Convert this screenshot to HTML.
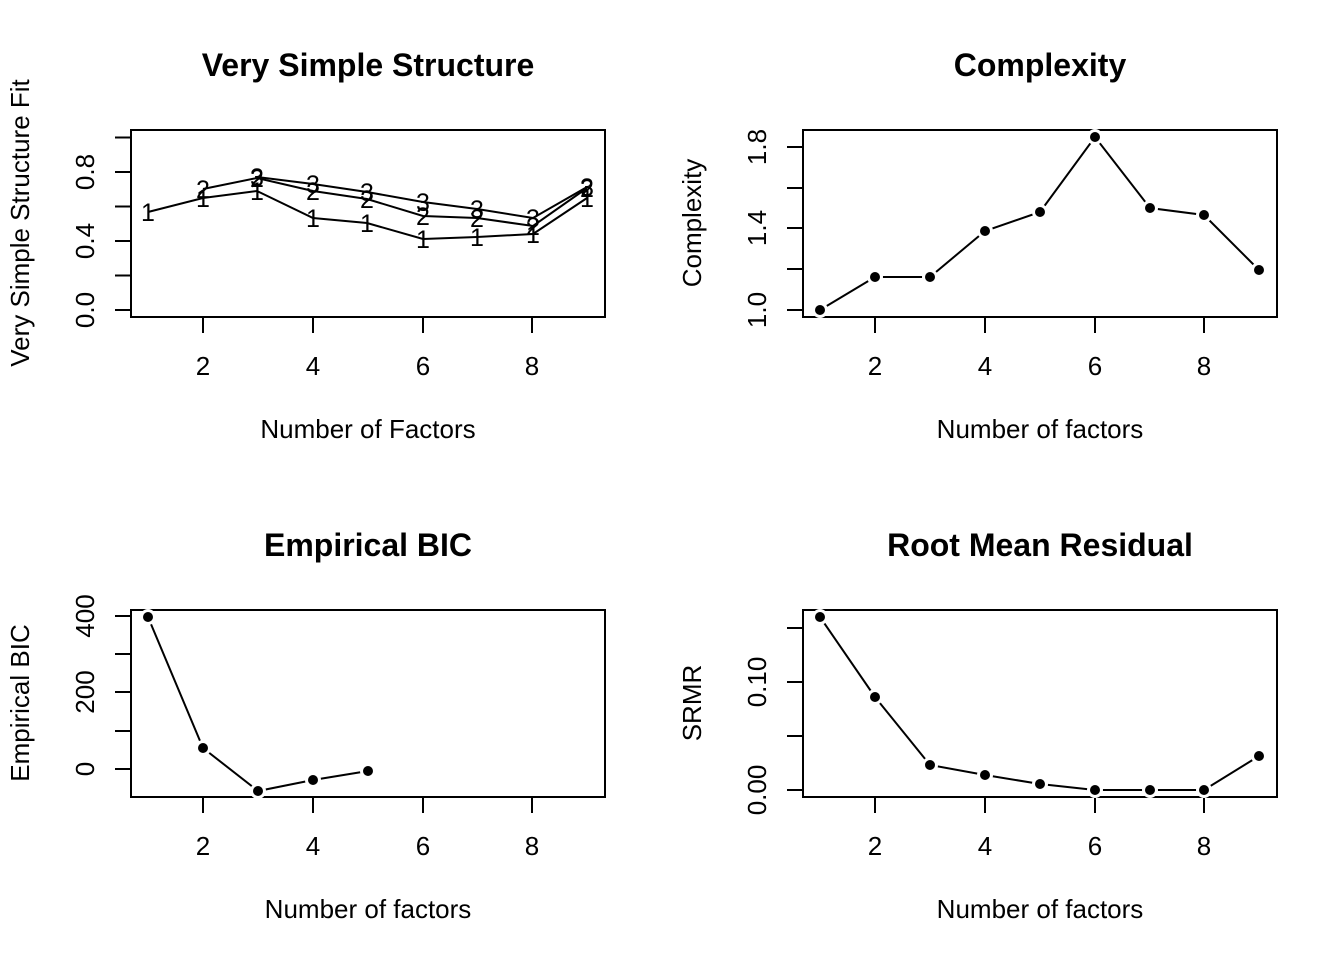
<!DOCTYPE html>
<html><head><meta charset="utf-8"><style>body{margin:0;background:#fff}svg{display:block}text{font-family:"Liberation Sans",Arial,sans-serif;fill:#000}</style></head><body>
<svg width="1344" height="960" xmlns="http://www.w3.org/2000/svg" stroke-linecap="butt">
<g font-size="26" text-anchor="middle">
<!-- Panel 1 VSS -->
<text x="368" y="76" font-size="32" font-weight="bold">Very Simple Structure</text>
<rect x="131" y="130" width="474" height="187" fill="none" stroke="#000" stroke-width="2"/>
<g stroke="#000" stroke-width="2">
<line x1="203" y1="317" x2="203" y2="333"/><line x1="313" y1="317" x2="313" y2="333"/><line x1="423" y1="317" x2="423" y2="333"/><line x1="532" y1="317" x2="532" y2="333"/>
<line x1="115" y1="310" x2="131" y2="310"/><line x1="115" y1="275.5" x2="131" y2="275.5"/><line x1="115" y1="241" x2="131" y2="241"/><line x1="115" y1="206.5" x2="131" y2="206.5"/><line x1="115" y1="172" x2="131" y2="172"/><line x1="115" y1="137.5" x2="131" y2="137.5"/>
</g>
<text x="203" y="375">2</text><text x="313" y="375">4</text><text x="423" y="375">6</text><text x="532" y="375">8</text>
<text transform="translate(94,310) rotate(-90)">0.0</text><text transform="translate(94,241) rotate(-90)">0.4</text><text transform="translate(94,172) rotate(-90)">0.8</text>
<text x="368" y="438">Number of Factors</text>
<text transform="translate(29,223) rotate(-90)">Very Simple Structure Fit</text>
<g fill="none" stroke="#000" stroke-width="2">
<polyline points="148,212 203,198 257,191 313,218 367,223 423,239 477,237 533,234 587,198"/>
<polyline points="203,189 257,178 313,191 367,199 423,216 477,218 533,226 587,188"/>
<polyline points="257,177 313,184 367,192 423,202 477,209 533,218 587,187"/>
</g>
<g font-size="25">
<text x="148" y="221">1</text><text x="203" y="207">1</text><text x="257" y="200">1</text><text x="313" y="227">1</text><text x="367" y="232">1</text><text x="423" y="248">1</text><text x="477" y="246">1</text><text x="533" y="243">1</text><text x="587" y="207">1</text>
<text x="203" y="198">2</text><text x="257" y="187">2</text><text x="313" y="200">2</text><text x="367" y="208">2</text><text x="423" y="225">2</text><text x="477" y="227">2</text><text x="533" y="235">2</text><text x="587" y="197">2</text>
<text x="257" y="186">3</text><text x="313" y="193">3</text><text x="367" y="201">3</text><text x="423" y="211">3</text><text x="477" y="218">3</text><text x="533" y="227">3</text><text x="587" y="196">3</text>
</g>

<!-- Panel 2 Complexity -->
<text x="1040" y="76" font-size="32" font-weight="bold">Complexity</text>
<rect x="803" y="130" width="474" height="187" fill="none" stroke="#000" stroke-width="2"/>
<g stroke="#000" stroke-width="2">
<line x1="875" y1="317" x2="875" y2="333"/><line x1="985" y1="317" x2="985" y2="333"/><line x1="1095" y1="317" x2="1095" y2="333"/><line x1="1204" y1="317" x2="1204" y2="333"/>
<line x1="787" y1="310" x2="803" y2="310"/><line x1="787" y1="269" x2="803" y2="269"/><line x1="787" y1="228" x2="803" y2="228"/><line x1="787" y1="188" x2="803" y2="188"/><line x1="787" y1="147" x2="803" y2="147"/>
</g>
<text x="875" y="375">2</text><text x="985" y="375">4</text><text x="1095" y="375">6</text><text x="1204" y="375">8</text>
<text transform="translate(766,310) rotate(-90)">1.0</text><text transform="translate(766,228) rotate(-90)">1.4</text><text transform="translate(766,147) rotate(-90)">1.8</text>
<text x="1040" y="438">Number of factors</text>
<text transform="translate(701,223) rotate(-90)">Complexity</text>
<polyline points="820,310 875,277 930,277 985,231 1040,212 1095,137 1150,208 1204,215 1259,270" fill="none" stroke="#000" stroke-width="2"/>
<g fill="#fff"><circle cx="820" cy="310" r="8"/><circle cx="875" cy="277" r="8"/><circle cx="930" cy="277" r="8"/><circle cx="985" cy="231" r="8"/><circle cx="1040" cy="212" r="8"/><circle cx="1095" cy="137" r="8"/><circle cx="1150" cy="208" r="8"/><circle cx="1204" cy="215" r="8"/><circle cx="1259" cy="270" r="8"/></g>
<g fill="#000"><circle cx="820" cy="310" r="5"/><circle cx="875" cy="277" r="5"/><circle cx="930" cy="277" r="5"/><circle cx="985" cy="231" r="5"/><circle cx="1040" cy="212" r="5"/><circle cx="1095" cy="137" r="5"/><circle cx="1150" cy="208" r="5"/><circle cx="1204" cy="215" r="5"/><circle cx="1259" cy="270" r="5"/></g>

<!-- Panel 3 BIC -->
<text x="368" y="556" font-size="32" font-weight="bold">Empirical BIC</text>
<rect x="131" y="610" width="474" height="187" fill="none" stroke="#000" stroke-width="2"/>
<g stroke="#000" stroke-width="2">
<line x1="203" y1="797" x2="203" y2="813"/><line x1="313" y1="797" x2="313" y2="813"/><line x1="423" y1="797" x2="423" y2="813"/><line x1="532" y1="797" x2="532" y2="813"/>
<line x1="115" y1="769" x2="131" y2="769"/><line x1="115" y1="731" x2="131" y2="731"/><line x1="115" y1="692" x2="131" y2="692"/><line x1="115" y1="654" x2="131" y2="654"/><line x1="115" y1="616" x2="131" y2="616"/>
</g>
<text x="203" y="855">2</text><text x="313" y="855">4</text><text x="423" y="855">6</text><text x="532" y="855">8</text>
<text transform="translate(94,769) rotate(-90)">0</text><text transform="translate(94,692) rotate(-90)">200</text><text transform="translate(94,616) rotate(-90)">400</text>
<text x="368" y="918">Number of factors</text>
<text transform="translate(29,703) rotate(-90)">Empirical BIC</text>
<polyline points="148,617 203,748 258,791 313,780 368,771" fill="none" stroke="#000" stroke-width="2"/>
<g fill="#fff"><circle cx="148" cy="617" r="8"/><circle cx="203" cy="748" r="8"/><circle cx="258" cy="791" r="8"/><circle cx="313" cy="780" r="8"/><circle cx="368" cy="771" r="8"/></g>
<g fill="#000"><circle cx="148" cy="617" r="5"/><circle cx="203" cy="748" r="5"/><circle cx="258" cy="791" r="5"/><circle cx="313" cy="780" r="5"/><circle cx="368" cy="771" r="5"/></g>

<!-- Panel 4 RMR -->
<text x="1040" y="556" font-size="32" font-weight="bold">Root Mean Residual</text>
<rect x="803" y="610" width="474" height="187" fill="none" stroke="#000" stroke-width="2"/>
<g stroke="#000" stroke-width="2">
<line x1="875" y1="797" x2="875" y2="813"/><line x1="985" y1="797" x2="985" y2="813"/><line x1="1095" y1="797" x2="1095" y2="813"/><line x1="1204" y1="797" x2="1204" y2="813"/>
<line x1="787" y1="790" x2="803" y2="790"/><line x1="787" y1="736" x2="803" y2="736"/><line x1="787" y1="682" x2="803" y2="682"/><line x1="787" y1="628" x2="803" y2="628"/>
</g>
<text x="875" y="855">2</text><text x="985" y="855">4</text><text x="1095" y="855">6</text><text x="1204" y="855">8</text>
<text transform="translate(766,790) rotate(-90)">0.00</text><text transform="translate(766,682) rotate(-90)">0.10</text>
<text x="1040" y="918">Number of factors</text>
<text transform="translate(701,703) rotate(-90)">SRMR</text>
<polyline points="820,617 875,697 930,765 985,775 1040,784 1095,790 1150,790 1204,790 1259,756" fill="none" stroke="#000" stroke-width="2"/>
<g fill="#fff"><circle cx="820" cy="617" r="8"/><circle cx="875" cy="697" r="8"/><circle cx="930" cy="765" r="8"/><circle cx="985" cy="775" r="8"/><circle cx="1040" cy="784" r="8"/><circle cx="1095" cy="790" r="8"/><circle cx="1150" cy="790" r="8"/><circle cx="1204" cy="790" r="8"/><circle cx="1259" cy="756" r="8"/></g>
<g fill="#000"><circle cx="820" cy="617" r="5"/><circle cx="875" cy="697" r="5"/><circle cx="930" cy="765" r="5"/><circle cx="985" cy="775" r="5"/><circle cx="1040" cy="784" r="5"/><circle cx="1095" cy="790" r="5"/><circle cx="1150" cy="790" r="5"/><circle cx="1204" cy="790" r="5"/><circle cx="1259" cy="756" r="5"/></g>
</g>
</svg>
</body></html>
